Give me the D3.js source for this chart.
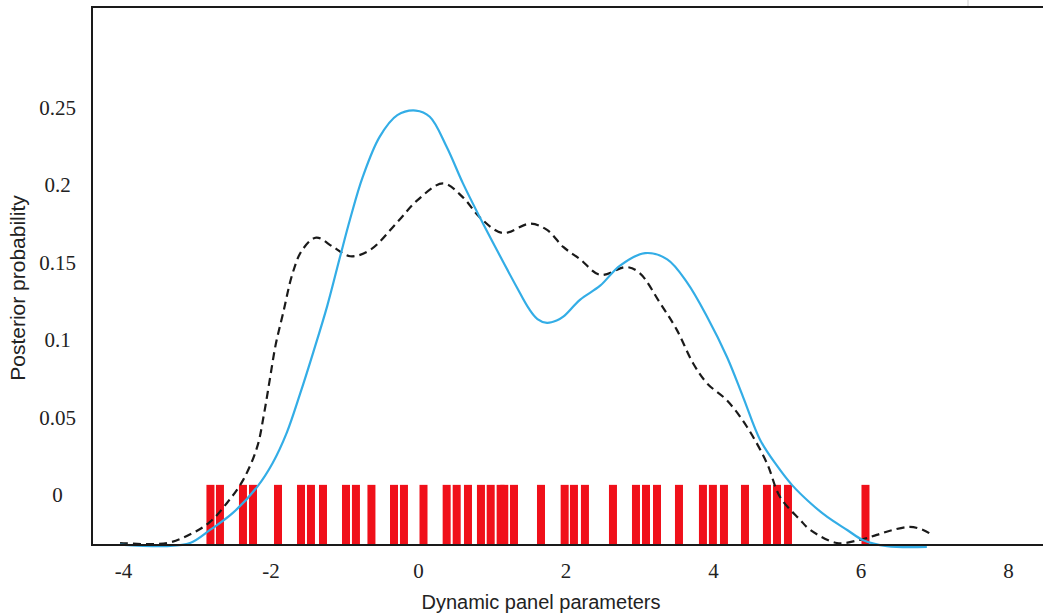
<!DOCTYPE html>
<html>
<head>
<meta charset="utf-8">
<script src="https://cdn.jsdelivr.net/npm/d3@7"></script>
<style>
  body { margin: 0; background: #fff; }
  #chart-area { width: 1043px; height: 615px; }
</style>
</head>
<body>
<div id="chart-area"></div>
<script>
// tick labels
const xTicks = [-4, -2, 0, 2, 4, 6, 8];
const yTicks = [0, 0.05, 0.1, 0.15, 0.2, 0.25];

// draws of the dynamic panel parameters (red rug bars)
const rugValues = [
  -2.814, -2.685, -2.373, -2.237, -1.898, -1.586, -1.451, -1.288, -0.976, -0.841,
  -0.631, -0.325, -0.19, 0.075, 0.389, 0.525, 0.678, 0.854, 0.986, 1.121,
  1.17, 1.302, 1.668, 1.989, 2.115, 2.264, 2.644, 2.956, 3.092, 3.241,
  3.539, 3.864, 3.999, 4.149, 4.434, 4.732, 4.868, 5.017, 6.068,
];

// solid blue density
const blueX = [
  -4.04, -3.4, -3.09, -2.82, -2.51, -2.18, -1.97, -1.78, -1.6, -1.42, -1.23, -1.06, -0.92,
  -0.75, -0.52, -0.28, -0.03, 0.16, 0.39, 0.61, 0.84, 1.07, 1.34, 1.5, 1.62, 1.75, 1.88,
  1.97, 2.2, 2.47, 2.74, 3.08, 3.38, 3.65, 3.92, 4.19, 4.41, 4.64, 4.87, 5.07, 5.32, 5.55,
  5.82, 6.03, 6.36, 6.9,
];
const blueY = [
  -0.032, -0.033, -0.031, -0.0226, -0.0116, 0.0052, 0.0206, 0.04, 0.065, 0.092, 0.122,
  0.153, 0.178, 0.205, 0.231, 0.245, 0.248, 0.244, 0.2245, 0.201, 0.179, 0.158, 0.134,
  0.1205, 0.1135, 0.111, 0.1125, 0.115, 0.126, 0.135, 0.148, 0.156, 0.152, 0.137, 0.115,
  0.089, 0.063, 0.0355, 0.0187, 0.0065, -0.0052, -0.0142, -0.0226, -0.029, -0.033, -0.0335,
];

// dashed black density
const dashX = [
  -4.04, -3.4, -3.05, -2.82, -2.59, -2.37, -2.18, -2.09, -2.01, -1.93, -1.83, -1.7, -1.57,
  -1.38, -1.15, -0.92, -0.65, -0.28, -0.01, 0.34, 0.61, 0.84, 1.15, 1.52, 1.75, 1.97,
  2.2, 2.47, 2.83, 3.01, 3.28, 3.51, 3.73, 3.92, 4.19, 4.46, 4.73, 4.91, 5.18, 5.32,
  5.68, 5.99, 6.22, 6.44, 6.67, 6.85, 6.97,
];
const dashY = [
  -0.031, -0.031, -0.0245, -0.0174, -0.0052, 0.0097, 0.031, 0.0516, 0.0742, 0.0968, 0.117,
  0.143, 0.158, 0.166, 0.16, 0.154, 0.158, 0.176, 0.19, 0.201, 0.192, 0.179, 0.169,
  0.175, 0.171, 0.16, 0.152, 0.142, 0.147, 0.143, 0.124, 0.1065, 0.085, 0.072, 0.061,
  0.044, 0.0206, -0.0013, -0.016, -0.0226, -0.031, -0.029, -0.0258, -0.0226, -0.0206,
  -0.0226, -0.0258,
];

let width = 1043;
let height = 615;
let plot = { left: 92, top: 7, right: 1043, bottom: 545 };
let blueColor = '#33ade6';
let rugColor = '#f0101a';
let barWidth = 8;

let xScale = d3.scaleLinear().domain([-4.42, 8.475]).range([plot.left, plot.right]);
let yScale = d3.scaleLinear().domain([-0.0323, 0.3148]).range([plot.bottom, plot.top]);

let chart = d3
  .select('#chart-area')
  .append('svg')
  .attr('width', width)
  .attr('height', height);

//rug bars
chart
  .append('g')
  .selectAll('rect')
  .data(rugValues)
  .enter()
  .append('rect')
  .attr('x', (d) => xScale(d) - barWidth / 2)
  .attr('y', yScale(0.0065))
  .attr('width', barWidth)
  .attr('height', yScale(yScale.domain()[0]) - yScale(0.0065))
  .attr('fill', rugColor);

//density lines
let line = d3
  .line()
  .x((d) => xScale(d[0]))
  .y((d) => yScale(d[1]))
  .curve(d3.curveCatmullRom.alpha(0.5));

chart
  .append('path')
  .datum(dashX.map((v, i) => [v, dashY[i]]))
  .attr('d', line)
  .attr('fill', 'none')
  .attr('stroke', '#1a1a1a')
  .attr('stroke-width', 2.2)
  .attr('stroke-dasharray', '8,5');

chart
  .append('path')
  .datum(blueX.map((v, i) => [v, blueY[i]]))
  .attr('d', line)
  .attr('fill', 'none')
  .attr('stroke', blueColor)
  .attr('stroke-width', 2.2);

//frame (left, top, bottom)
chart
  .append('path')
  .attr('d', `M${plot.right},${plot.top}H${plot.left}V${plot.bottom}H${plot.right}`)
  .attr('fill', 'none')
  .attr('stroke', '#1a1a1a')
  .attr('stroke-width', 2);
chart
  .append('line')
  .attr('x1', 968)
  .attr('x2', 968)
  .attr('y1', 0)
  .attr('y2', plot.top - 1)
  .attr('stroke', '#cfcfcf')
  .attr('stroke-width', 1);

//axes (plain hyphen minus like the original)
let xAxis = d3
  .axisBottom(xScale)
  .tickValues(xTicks)
  .tickSize(0)
  .tickPadding(18)
  .tickFormat((d) => `${d}`);
let yAxis = d3
  .axisLeft(yScale)
  .tickValues(yTicks)
  .tickSize(0)
  .tickFormat((d) => `${d}`);

let gx = chart
  .append('g')
  .attr('transform', `translate(0, ${plot.bottom})`)
  .call(xAxis);
gx.select('.domain').remove();
gx.selectAll('text')
  .attr('font-family', '"Liberation Serif", "Times New Roman", serif')
  .attr('font-size', 21)
  .attr('fill', '#222');

let gy = chart
  .append('g')
  .attr('transform', `translate(${plot.left}, 0)`)
  .call(yAxis);
gy.select('.domain').remove();
gy.selectAll('text')
  .attr('x', 57.5 - plot.left)
  .attr('text-anchor', 'middle')
  .attr('font-family', '"Liberation Serif", "Times New Roman", serif')
  .attr('font-size', 21)
  .attr('fill', '#222');

//axis titles
chart
  .append('text')
  .text('Dynamic panel parameters')
  .attr('x', 541)
  .attr('y', 609)
  .attr('text-anchor', 'middle')
  .attr('font-family', '"Liberation Sans", Arial, sans-serif')
  .attr('font-size', 20)
  .attr('fill', '#222');

chart
  .append('text')
  .text('Posterior probability')
  .attr('text-anchor', 'middle')
  .attr('transform', 'translate(25, 288) rotate(-90)')
  .attr('font-family', '"Liberation Sans", Arial, sans-serif')
  .attr('font-size', 21)
  .attr('fill', '#222');
</script>
</body>
</html>
